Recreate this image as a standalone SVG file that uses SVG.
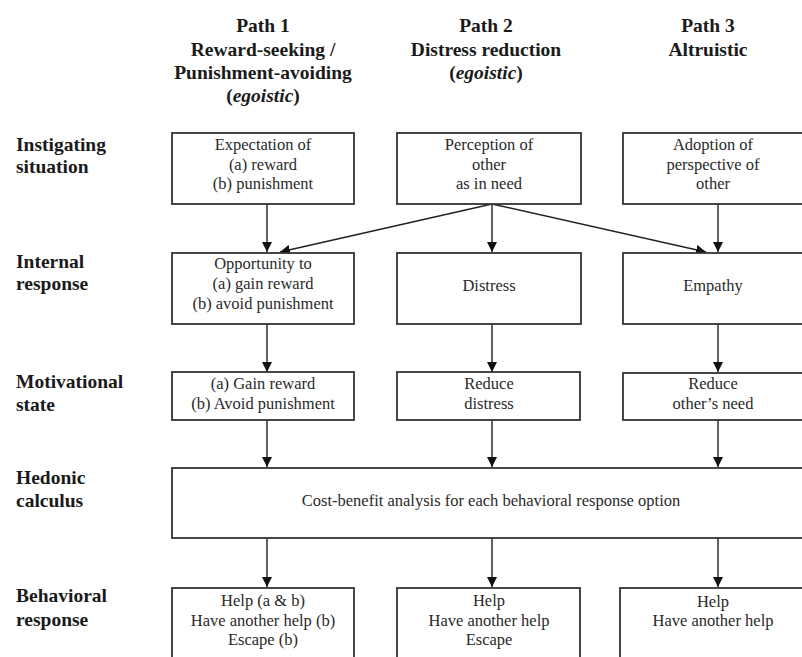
<svg xmlns="http://www.w3.org/2000/svg" width="802" height="657" viewBox="0 0 802 657">
<style>
  .box { fill: #fff; stroke: #333; stroke-width: 1.8; }
  .t { font-family: "Liberation Serif", "Times New Roman", serif; font-size: 16.5px; fill: #2a2a2a; text-anchor: middle; }
  .h { font-family: "Liberation Serif", "Times New Roman", serif; font-size: 19.5px; font-weight: bold; fill: #1a1a1a; text-anchor: middle; }
  .lab { font-family: "Liberation Serif", "Times New Roman", serif; font-size: 19.5px; font-weight: bold; fill: #1a1a1a; }
  .c { stroke: #222; stroke-width: 1.4; fill: none; marker-end: url(#ah); }
</style>
<defs>
  <marker id="ah" viewBox="0 0 10 10" refX="10" refY="5" markerWidth="10" markerHeight="10" markerUnits="userSpaceOnUse" orient="auto">
    <path d="M0,0 L10,5 L0,10 Z" fill="#111"/>
  </marker>
</defs>
<rect width="802" height="657" fill="#fff"/>

<g id="headers">
  <text class="h" x="263" y="32">Path 1</text>
  <text class="h" x="263" y="56">Reward-seeking /</text>
  <text class="h" x="263" y="79">Punishment-avoiding</text>
  <text class="h" x="263" y="102">(<tspan font-style="italic">egoistic</tspan>)</text>
  <text class="h" x="486" y="32">Path 2</text>
  <text class="h" x="486" y="56">Distress reduction</text>
  <text class="h" x="486" y="79">(<tspan font-style="italic">egoistic</tspan>)</text>
  <text class="h" x="708" y="32">Path 3</text>
  <text class="h" x="708" y="56">Altruistic</text>
</g>

<g id="row-labels">
  <text class="lab" x="16" y="151">Instigating</text>
  <text class="lab" x="16" y="173">situation</text>
  <text class="lab" x="16" y="268">Internal</text>
  <text class="lab" x="16" y="290">response</text>
  <text class="lab" x="16" y="388">Motivational</text>
  <text class="lab" x="16" y="411">state</text>
  <text class="lab" x="16" y="484">Hedonic</text>
  <text class="lab" x="16" y="507">calculus</text>
  <text class="lab" x="16" y="602">Behavioral</text>
  <text class="lab" x="16" y="626">response</text>
</g>

<g id="connectors">
  <line class="c" x1="267" y1="204" x2="267" y2="252"/>
  <line class="c" x1="492" y1="204" x2="492" y2="252"/>
  <line class="c" x1="718" y1="204" x2="718" y2="252"/>
  <line class="c" x1="492" y1="204" x2="280" y2="252"/>
  <line class="c" x1="492" y1="204" x2="706" y2="252"/>
  <line class="c" x1="267" y1="324" x2="267" y2="372"/>
  <line class="c" x1="492" y1="324" x2="492" y2="372"/>
  <line class="c" x1="718" y1="324" x2="718" y2="372"/>
  <line class="c" x1="267" y1="420" x2="267" y2="467"/>
  <line class="c" x1="492" y1="420" x2="492" y2="467"/>
  <line class="c" x1="718" y1="420" x2="718" y2="467"/>
  <line class="c" x1="267" y1="538" x2="267" y2="587"/>
  <line class="c" x1="492" y1="538" x2="492" y2="587"/>
  <line class="c" x1="718" y1="538" x2="718" y2="587"/>
</g>

<g id="n-expectation">
  <rect class="box" x="172" y="133" width="182" height="71"/>
  <text class="t" x="263" y="150">Expectation of</text>
  <text class="t" x="263" y="170">(a) reward</text>
  <text class="t" x="263" y="189">(b) punishment</text>
</g>
<g id="n-perception">
  <rect class="box" x="397" y="133" width="184" height="71"/>
  <text class="t" x="489" y="150">Perception of</text>
  <text class="t" x="489" y="170">other</text>
  <text class="t" x="489" y="189">as in need</text>
</g>
<g id="n-adoption">
  <rect class="box" x="623" y="133" width="185" height="71"/>
  <text class="t" x="713" y="150">Adoption of</text>
  <text class="t" x="713" y="170">perspective of</text>
  <text class="t" x="713" y="189">other</text>
</g>

<g id="n-opportunity">
  <rect class="box" x="172" y="253" width="182" height="71"/>
  <text class="t" x="263" y="269">Opportunity to</text>
  <text class="t" x="263" y="289">(a) gain reward</text>
  <text class="t" x="263" y="309">(b) avoid punishment</text>
</g>
<g id="n-distress">
  <rect class="box" x="397" y="253" width="184" height="71"/>
  <text class="t" x="489" y="291">Distress</text>
</g>
<g id="n-empathy">
  <rect class="box" x="623" y="253" width="185" height="71"/>
  <text class="t" x="713" y="291">Empathy</text>
</g>

<g id="n-gain">
  <rect class="box" x="172" y="372" width="182" height="48"/>
  <text class="t" x="263" y="389">(a) Gain reward</text>
  <text class="t" x="263" y="409">(b) Avoid punishment</text>
</g>
<g id="n-reduce-distress">
  <rect class="box" x="397" y="372" width="183" height="48"/>
  <text class="t" x="489" y="389">Reduce</text>
  <text class="t" x="489" y="409">distress</text>
</g>
<g id="n-reduce-need">
  <rect class="box" x="623" y="373" width="185" height="47"/>
  <text class="t" x="713" y="389">Reduce</text>
  <text class="t" x="713" y="409">other’s need</text>
</g>

<g id="n-hedonic">
  <rect class="box" x="172" y="468" width="640" height="70"/>
  <text class="t" x="491" y="506">Cost-benefit analysis for each behavioral response option</text>
</g>

<g id="n-help1">
  <rect class="box" x="172" y="588" width="182" height="80"/>
  <text class="t" x="263" y="606">Help (a &amp; b)</text>
  <text class="t" x="263" y="626">Have another help (b)</text>
  <text class="t" x="263" y="645">Escape (b)</text>
</g>
<g id="n-help2">
  <rect class="box" x="397" y="588" width="183" height="80"/>
  <text class="t" x="489" y="606">Help</text>
  <text class="t" x="489" y="626">Have another help</text>
  <text class="t" x="489" y="645">Escape</text>
</g>
<g id="n-help3">
  <rect class="box" x="620" y="588" width="188" height="80"/>
  <text class="t" x="713" y="607">Help</text>
  <text class="t" x="713" y="626">Have another help</text>
</g>
</svg>
